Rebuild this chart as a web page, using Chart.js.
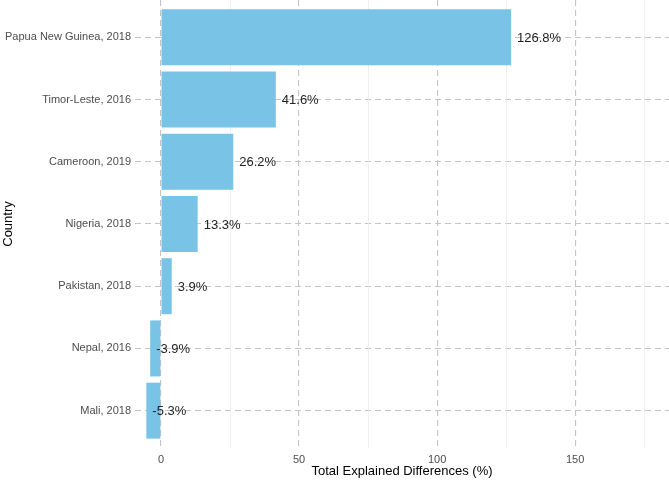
<!DOCTYPE html>
<html>
<head>
<meta charset="utf-8">
<script src="https://cdn.jsdelivr.net/npm/chart.js@4.4.1/dist/chart.umd.min.js"></script>
<style>
  html, body { margin: 0; padding: 0; background: #fff; }
  #wrap { width: 669px; height: 481px; }
</style>
</head>
<body>
<div id="wrap"><canvas id="canvas"></canvas></div>
<script>
const countries = ['Papua New Guinea, 2018', 'Timor-Leste, 2016', 'Cameroon, 2019',
  'Nigeria, 2018', 'Pakistan, 2018', 'Nepal, 2016', 'Mali, 2018'];
const values = [126.8, 41.6, 26.2, 13.3, 3.9, -3.9, -5.3];
const xTicks = [0, 50, 100, 150];
const xMinor = [25, 75, 125, 175];

const FONT = '"Liberation Sans", Arial, Helvetica, sans-serif';

// light solid minor grid lines (ggplot minor grid)
const minorGrid = {
  id: 'minorGrid',
  beforeDatasetsDraw(chart) {
    const { ctx, chartArea, scales } = chart;
    ctx.save();
    ctx.strokeStyle = '#ebebeb';
    ctx.lineWidth = 0.8;
    xMinor.forEach(v => {
      const px = Math.round(scales.x.getPixelForValue(v)) + 0.5;
      ctx.beginPath();
      ctx.moveTo(px, chartArea.top);
      ctx.lineTo(px, chartArea.bottom);
      ctx.stroke();
    });
    ctx.restore();
  }
};

// value labels at the end of each bar
const valueLabels = {
  id: 'valueLabels',
  afterDatasetsDraw(chart) {
    const { ctx } = chart;
    const meta = chart.getDatasetMeta(0);
    ctx.save();
    ctx.font = '13px ' + FONT;
    ctx.fillStyle = '#222';
    ctx.textAlign = 'left';
    ctx.textBaseline = 'middle';
    meta.data.forEach((bar, i) => {
      ctx.fillText(values[i].toFixed(1) + '%', bar.x + 6, bar.y + 1);
    });
    ctx.restore();
  }
};

new Chart(document.getElementById('canvas'), {
  type: 'bar',
  data: {
    datasets: [{
      data: values.map((v, i) => ({ x: v, y: i })),
      backgroundColor: '#79c3e6',
      borderWidth: 0,
      barPercentage: 0.9,
      categoryPercentage: 1
    }]
  },
  options: {
    indexAxis: 'y',
    responsive: true,
    maintainAspectRatio: false,
    animation: false,
    layout: { padding: { left: 0, right: 0, top: 0, bottom: 0 } },
    plugins: {
      legend: { display: false },
      tooltip: { enabled: false }
    },
    scales: {
      x: {
        type: 'linear',
        min: -9.4,
        max: 184,
        afterBuildTicks: s => { s.ticks = xTicks.map(v => ({ value: v })); },
        afterFit: s => { s.height = 33; s.paddingLeft = 0; s.paddingRight = 0; },
        grid: { color: '#c4c4c4', lineWidth: 1.1, drawTicks: false },
        border: { display: false, dash: [6, 4] },
        ticks: { color: '#4d4d4d', font: { family: FONT, size: 11 }, padding: 5 },
        title: {
          display: true,
          text: 'Total Explained Differences (%)',
          color: '#000',
          font: { family: FONT, size: 13 },
          padding: { top: 0, bottom: 2 }
        }
      },
      y: {
        type: 'linear',
        reverse: true,
        offset: false,
        min: -0.6,
        max: 6.6,
        afterBuildTicks: s => { s.ticks = countries.map((c, i) => ({ value: i })); },
        afterFit: s => { s.width = 135; s.paddingTop = 0; s.paddingBottom = 0; },
        grid: { offset: false, color: '#c4c4c4', lineWidth: 1.1, drawTicks: false },
        border: { display: false, dash: [6, 4] },
        ticks: {
          color: '#4d4d4d',
          font: { family: FONT, size: 11 },
          padding: 4,
          callback: v => countries[v]
        },
        title: {
          display: true,
          text: 'Country',
          color: '#000',
          font: { family: FONT, size: 13 },
          padding: { top: 1, bottom: 0 }
        }
      }
    }
  },
  plugins: [minorGrid, valueLabels]
});
</script>
</body>
</html>
